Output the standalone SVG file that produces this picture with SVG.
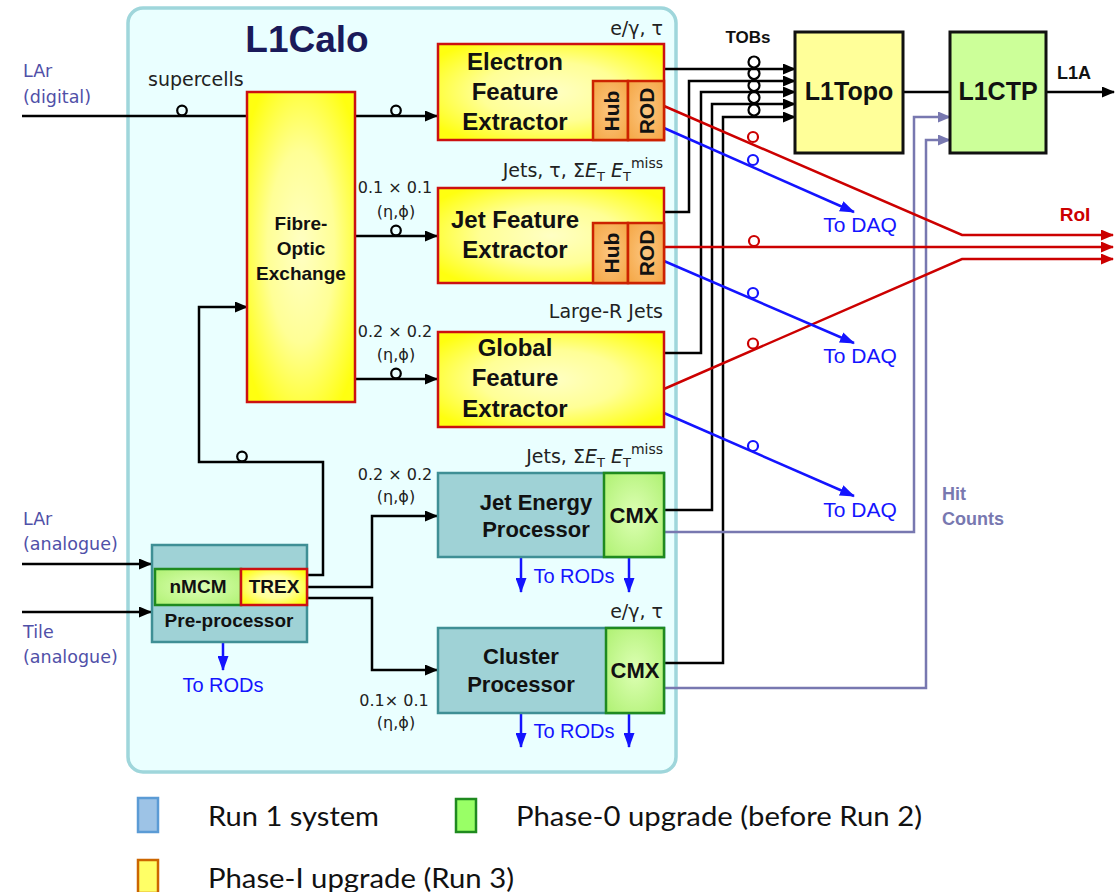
<svg xmlns="http://www.w3.org/2000/svg" width="1115" height="892" viewBox="0 0 1115 892">
  <defs>
    <radialGradient id="gYellow" cx="50%" cy="50%" r="62%">
      <stop offset="0" stop-color="#ffffc4"/>
      <stop offset="0.5" stop-color="#ffff96"/>
      <stop offset="1" stop-color="#ffff10"/>
    </radialGradient>
    <radialGradient id="gOrange" cx="50%" cy="50%" r="65%">
      <stop offset="0" stop-color="#fcc680"/>
      <stop offset="1" stop-color="#f5a848"/>
    </radialGradient>
    <radialGradient id="gGreen" cx="50%" cy="50%" r="65%">
      <stop offset="0" stop-color="#ddffb4"/>
      <stop offset="1" stop-color="#b2f277"/>
    </radialGradient>
    <marker id="aBlack" markerUnits="userSpaceOnUse" markerWidth="13" markerHeight="11" refX="12" refY="5.5" orient="auto">
      <path d="M0,0 L13,5.5 L0,11 z" fill="#000"/>
    </marker>
    <marker id="aBlue" markerUnits="userSpaceOnUse" markerWidth="15" markerHeight="11" refX="14" refY="5.5" orient="auto">
      <path d="M0,0 L15,5.5 L0,11 z" fill="#1414ff"/>
    </marker>
    <marker id="aRed" markerUnits="userSpaceOnUse" markerWidth="13" markerHeight="11" refX="12" refY="5.5" orient="auto">
      <path d="M0,0 L13,5.5 L0,11 z" fill="#cc0000"/>
    </marker>
    <marker id="aPurple" markerUnits="userSpaceOnUse" markerWidth="13" markerHeight="11" refX="12" refY="5.5" orient="auto">
      <path d="M0,0 L13,5.5 L0,11 z" fill="#7878b0"/>
    </marker>
  </defs>
  <style>
    .fex { fill: url(#gYellow); stroke: #cc1111; stroke-width: 2.5; }
    .sub { fill: url(#gOrange); stroke: #cc2200; stroke-width: 2.5; }
    .run1 { fill: #9fd2d6; stroke: #3f8f95; stroke-width: 2.5; }
    .cmx { fill: url(#gGreen); stroke: #1f8a1f; stroke-width: 2.5; }
    .b { font-family: "Liberation Sans", Arial, sans-serif; font-weight: bold; fill: #111; text-anchor: middle; }
    .s { font-family: "DejaVu Sans", sans-serif; font-size: 16px; fill: #222; }
    .t { font-family: "DejaVu Sans", sans-serif; font-size: 19px; fill: #222; }
    .in { font-family: "DejaVu Sans", sans-serif; font-size: 17.5px; fill: #5050a8; }
    .blue { font-family: "Liberation Sans", Arial, sans-serif; fill: #1414ff; text-anchor: middle; }
    .k { fill: none; stroke: #000; stroke-width: 2.5; }
    .r { fill: none; stroke: #cc0000; stroke-width: 2.5; }
    .bl { fill: none; stroke: #1414ff; stroke-width: 2.5; }
    .p { fill: none; stroke: #7878b0; stroke-width: 2.5; }
    .fib { fill: none; stroke-width: 2.2; }
    .leg { font-family: "Lato", "Open Sans", sans-serif; font-size: 27px; fill: #111; }
  </style>

  <rect width="1115" height="892" fill="#fff"/>

  <!-- L1Calo crate outline -->
  <g id="l1calo">
    <rect x="128" y="8" width="548" height="764" rx="15" fill="#eaffff" stroke="#9fd6db" stroke-width="3.5"/>
    <text class="b" x="307" y="52" font-size="37" style="fill:#1a1a5a">L1Calo</text>
  </g>

  <!-- input labels -->
  <g id="inputs">
    <text class="in" x="23" y="77">LAr</text>
    <text class="in" x="23" y="103">(digital)</text>
    <text class="in" x="23" y="525">LAr</text>
    <text class="in" x="23" y="550">(analogue)</text>
    <text class="in" x="23" y="638">Tile</text>
    <text class="in" x="23" y="663">(analogue)</text>
  </g>

  <!-- connectors -->
  <g id="connectors">
    <!-- supercells into the fibre exchange -->
    <path class="k" d="M22,116 H247"/>
    <circle class="fib" stroke="#000" cx="182" cy="110.5" r="4.8"/>
    <text class="t" x="148" y="86" font-size="18.5">supercells</text>

    <!-- fibre exchange to FEX modules -->
    <path class="k" d="M355,116 H437" marker-end="url(#aBlack)"/>
    <circle class="fib" stroke="#000" cx="396" cy="110.5" r="4.8"/>
    <path class="k" d="M355,236 H437" marker-end="url(#aBlack)"/>
    <circle class="fib" stroke="#000" cx="396" cy="230.5" r="4.8"/>
    <path class="k" d="M355,379 H437" marker-end="url(#aBlack)"/>
    <circle class="fib" stroke="#000" cx="396" cy="373.5" r="4.8"/>

    <!-- analogue inputs -->
    <path class="k" d="M22,564 H151" marker-end="url(#aBlack)"/>
    <path class="k" d="M22,612 H151" marker-end="url(#aBlack)"/>

    <!-- TREX outputs -->
    <path class="k" d="M307,575 H323 V462 H199 V307 H247" marker-end="url(#aBlack)"/>
    <circle class="fib" stroke="#000" cx="242" cy="456.5" r="4.8"/>
    <path class="k" d="M307,587 H372 V516 H437" marker-end="url(#aBlack)"/>
    <path class="k" d="M307,598 H372 V670 H437" marker-end="url(#aBlack)"/>

    <!-- TOBs to L1Topo -->
    <path class="k" d="M664,69 H795" marker-end="url(#aBlack)"/>
    <path class="k" d="M664,212 H689 V81 H795" marker-end="url(#aBlack)"/>
    <path class="k" d="M664,353 H701 V92 H795" marker-end="url(#aBlack)"/>
    <path class="k" d="M664,510 H712 V104 H795" marker-end="url(#aBlack)"/>
    <path class="k" d="M664,663 H723 V117 H795" marker-end="url(#aBlack)"/>
    <circle class="fib" stroke="#000" cx="754" cy="62" r="5.5"/>
    <circle class="fib" stroke="#000" cx="754" cy="73.5" r="5.5"/>
    <circle class="fib" stroke="#000" cx="754" cy="85.5" r="5.5"/>
    <circle class="fib" stroke="#000" cx="754" cy="97.5" r="5.5"/>
    <circle class="fib" stroke="#000" cx="754" cy="110" r="5.5"/>

    <!-- L1Topo to L1CTP and L1A -->
    <path class="k" d="M903,92 H950"/>
    <path class="k" d="M1046,92 H1114" marker-end="url(#aBlack)"/>

    <!-- hit counts -->
    <path class="p" d="M664,532 H914 V117 H950" marker-end="url(#aPurple)"/>
    <path class="p" d="M664,688 H926 V140 H950" marker-end="url(#aPurple)"/>

    <!-- RoI -->
    <path class="r" d="M664,106 L962,235 H1113" marker-end="url(#aRed)"/>
    <circle class="fib" stroke="#cc0000" cx="753" cy="137" r="5"/>
    <path class="r" d="M664,247 H1113" marker-end="url(#aRed)"/>
    <circle class="fib" stroke="#cc0000" cx="754" cy="241" r="5"/>
    <path class="r" d="M664,389 L962,259 H1113" marker-end="url(#aRed)"/>
    <circle class="fib" stroke="#cc0000" cx="753" cy="343.5" r="5"/>

    <!-- readout to DAQ -->
    <path class="bl" d="M664,128 L854,212" marker-end="url(#aBlue)"/>
    <circle class="fib" stroke="#1414ff" cx="753" cy="160" r="5"/>
    <path class="bl" d="M664,261 L854,343" marker-end="url(#aBlue)"/>
    <circle class="fib" stroke="#1414ff" cx="753" cy="293" r="5"/>
    <path class="bl" d="M664,413 L854,496" marker-end="url(#aBlue)"/>
    <circle class="fib" stroke="#1414ff" cx="753" cy="446" r="5"/>

    <!-- readout to RODs -->
    <path class="bl" d="M223,637 V670" marker-end="url(#aBlue)"/>
    <path class="bl" d="M521,557 V592" marker-end="url(#aBlue)"/>
    <path class="bl" d="M629,557 V592" marker-end="url(#aBlue)"/>
    <path class="bl" d="M521,713 V747" marker-end="url(#aBlue)"/>
    <path class="bl" d="M629,713 V747" marker-end="url(#aBlue)"/>
  </g>

  <!-- connector labels -->
  <g id="labels">
    <text class="s" x="395" y="193" text-anchor="middle">0.1 × 0.1</text>
    <text class="s" x="396" y="217" text-anchor="middle">(η,ϕ)</text>
    <text class="s" x="395" y="337" text-anchor="middle">0.2 × 0.2</text>
    <text class="s" x="396" y="360" text-anchor="middle">(η,ϕ)</text>
    <text class="s" x="395" y="480" text-anchor="middle">0.2 × 0.2</text>
    <text class="s" x="396" y="502" text-anchor="middle">(η,ϕ)</text>
    <text class="s" x="394" y="706" text-anchor="middle">0.1× 0.1</text>
    <text class="s" x="396" y="728" text-anchor="middle">(η,ϕ)</text>

    <text class="t" x="663" y="35" text-anchor="end">e/γ, τ</text>
    <text class="t" x="663" y="177" text-anchor="end">Jets, τ, Σ<tspan font-style="italic">E</tspan><tspan font-size="13" dy="4">T</tspan><tspan dy="-4"> </tspan><tspan font-style="italic">E</tspan><tspan font-size="13" dy="4">T</tspan><tspan font-size="14" dy="-13">miss</tspan></text>
    <text class="t" x="663" y="318" text-anchor="end">Large-R Jets</text>
    <text class="t" x="663" y="463" text-anchor="end">Jets, Σ<tspan font-style="italic">E</tspan><tspan font-size="13" dy="4">T</tspan><tspan dy="-4"> </tspan><tspan font-style="italic">E</tspan><tspan font-size="13" dy="4">T</tspan><tspan font-size="14" dy="-13">miss</tspan></text>
    <text class="t" x="663" y="618" text-anchor="end">e/γ, τ</text>

    <text class="b" x="748" y="43" font-size="17">TOBs</text>
    <text class="b" x="1074" y="79" font-size="18">L1A</text>
    <text class="b" x="1075" y="221" font-size="19" style="fill:#cc0000">RoI</text>
    <text class="b" x="942" y="500" font-size="18" style="fill:#7878b0;text-anchor:start">Hit</text>
    <text class="b" x="942" y="525" font-size="18" style="fill:#7878b0;text-anchor:start">Counts</text>

    <text class="blue" x="860" y="232" font-size="21">To DAQ</text>
    <text class="blue" x="860" y="363" font-size="21">To DAQ</text>
    <text class="blue" x="860" y="517" font-size="21">To DAQ</text>
    <text class="blue" x="223" y="692" font-size="20">To RODs</text>
    <text class="blue" x="574" y="583" font-size="20">To RODs</text>
    <text class="blue" x="574" y="738" font-size="20">To RODs</text>
  </g>

  <g id="foe">
    <rect class="fex" x="247" y="92" width="108" height="310"/>
    <text class="b" x="301" y="230" font-size="19">Fibre-</text>
    <text class="b" x="301" y="255" font-size="19">Optic</text>
    <text class="b" x="301" y="280" font-size="19">Exchange</text>
  </g>

  <g id="efex">
    <rect class="fex" x="438" y="44" width="226" height="96"/>
    <rect class="sub" x="593" y="81" width="35" height="59"/>
    <rect class="sub" x="628" y="81" width="36" height="59"/>
    <text class="b" x="515" y="70" font-size="24">Electron</text>
    <text class="b" x="515" y="100" font-size="24">Feature</text>
    <text class="b" x="515" y="130" font-size="24">Extractor</text>
    <text class="b" font-size="21" dominant-baseline="central" transform="translate(611,111) rotate(-90)">Hub</text>
    <text class="b" font-size="21" dominant-baseline="central" transform="translate(646,111) rotate(-90)">ROD</text>
  </g>

  <g id="jfex">
    <rect class="fex" x="438" y="188" width="226" height="95"/>
    <rect class="sub" x="593" y="223" width="35" height="60"/>
    <rect class="sub" x="628" y="223" width="36" height="60"/>
    <text class="b" x="515" y="228" font-size="24">Jet Feature</text>
    <text class="b" x="515" y="258" font-size="24">Extractor</text>
    <text class="b" font-size="21" dominant-baseline="central" transform="translate(611,253) rotate(-90)">Hub</text>
    <text class="b" font-size="21" dominant-baseline="central" transform="translate(646,253) rotate(-90)">ROD</text>
  </g>

  <g id="gfex">
    <rect class="fex" x="438" y="332" width="226" height="95"/>
    <text class="b" x="515" y="356" font-size="24">Global</text>
    <text class="b" x="515" y="386" font-size="24">Feature</text>
    <text class="b" x="515" y="417" font-size="24">Extractor</text>
  </g>

  <g id="jep">
    <rect class="run1" x="438" y="473" width="226" height="84"/>
    <rect class="cmx" x="604" y="473" width="60" height="84"/>
    <text class="b" x="536" y="510" font-size="22">Jet Energy</text>
    <text class="b" x="536" y="537" font-size="22">Processor</text>
    <text class="b" x="634" y="523" font-size="22">CMX</text>
  </g>

  <g id="cp">
    <rect class="run1" x="438" y="628" width="226" height="85"/>
    <rect class="cmx" x="606" y="628" width="58" height="85"/>
    <text class="b" x="521" y="664" font-size="22">Cluster</text>
    <text class="b" x="521" y="692" font-size="22">Processor</text>
    <text class="b" x="635" y="678" font-size="22">CMX</text>
  </g>

  <g id="preprocessor">
    <rect class="run1" x="152" y="545" width="155" height="97"/>
    <rect class="cmx" x="155" y="569" width="86" height="36"/>
    <rect class="fex" x="241" y="569" width="66" height="36"/>
    <text class="b" x="198" y="593" font-size="19">nMCM</text>
    <text class="b" x="274" y="593" font-size="19">TREX</text>
    <text class="b" x="229" y="627" font-size="19">Pre-processor</text>
  </g>

  <g id="l1topo">
    <rect x="795" y="32" width="108" height="121" fill="#ffff99" stroke="#111" stroke-width="3"/>
    <text class="b" x="849" y="100" font-size="25">L1Topo</text>
  </g>

  <g id="l1ctp">
    <rect x="950" y="32" width="96" height="121" fill="#ccff99" stroke="#111" stroke-width="3"/>
    <text class="b" x="998" y="100" font-size="25">L1CTP</text>
  </g>

  <!-- legend -->
  <g id="legend">
    <rect x="138" y="798" width="20" height="34" fill="#9dc3e6" stroke="#5b9bd5" stroke-width="2.5"/>
    <text class="leg" x="208" y="826" textLength="171" lengthAdjust="spacingAndGlyphs">Run 1 system</text>
    <rect x="456" y="799" width="20" height="33" fill="#99ff66" stroke="#1f8a1f" stroke-width="2.5"/>
    <text class="leg" x="516" y="826" textLength="406" lengthAdjust="spacingAndGlyphs">Phase-0 upgrade (before Run 2)</text>
    <rect x="138" y="860" width="20" height="33" fill="#ffff66" stroke="#cc6600" stroke-width="2.5"/>
    <text class="leg" x="208" y="888" textLength="306" lengthAdjust="spacingAndGlyphs">Phase-I upgrade (Run 3)</text>
  </g>
</svg>
